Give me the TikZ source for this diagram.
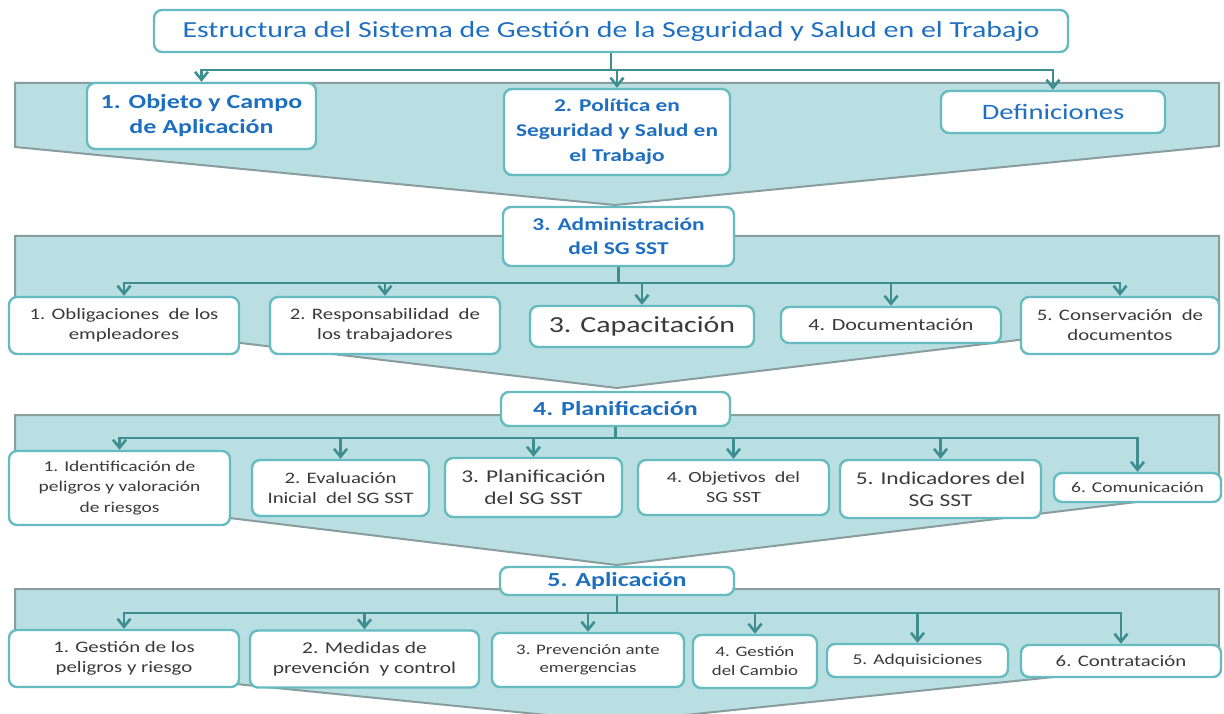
\documentclass[tikz,border=0pt]{standalone}
\usepackage{fontspec}
\setmainfont{Carlito}[FakeStretch=1.3]
\usetikzlibrary{arrows.meta}
\definecolor{bandfill}{HTML}{B9DFE2}
\definecolor{bandline}{HTML}{8A9D9E}
\definecolor{boxline}{HTML}{66BBC0}
\definecolor{connc}{HTML}{3E8E90}
\definecolor{headblue}{HTML}{1F6FC1}
\definecolor{itemgray}{HTML}{3A3A3A}
\newcommand\fsz[2]{\fontsize{#1}{#2}\selectfont}
\tikzset{
  bx/.style={draw=boxline, line width=2.4pt, rounded corners=8pt, fill=white, align=center, inner sep=0pt},
  head/.style={bx, text=headblue},
  item/.style={bx, text=itemgray},
  band/.style={fill=bandfill, draw=bandline, line width=2pt, line join=miter},
  arr/.style={draw=connc, line width=2.6pt, -{Straight Barb[length=8pt,width=13pt]}},
}
\begin{document}
\begin{tikzpicture}[x=1pt,y=-1pt]
\useasboundingbox (0,0) rectangle (1224,714);
% bands
\draw[band] (15,83) -- (1219,83) -- (1219,146) -- (615,205) -- (15,147) -- cycle;
\draw[band] (15,236) -- (1219,236) -- (1219,316) -- (617,388) -- (15,316) -- cycle;
\draw[band] (15,415) -- (1219,415) -- (1219,492) -- (617,565) -- (15,492) -- cycle;
\begin{scope}
\clip (0,0) rectangle (1224,714);
\draw[band] (15,589) -- (1219,589) -- (1219,660) -- (617,722) -- (15,662) -- cycle;
\end{scope}
% title
\node[head, minimum width=914pt, minimum height=42pt, font=\fsz{23}{28}] (title) at (611,31)
  {Estructura del Sistema de Gestión de la Seguridad y Salud en el Trabajo};
% level 1
\node[head, minimum width=229pt, minimum height=66pt, font=\bfseries\fsz{20}{25}] (b1) at (201.5,116)
  {1. Objeto y Campo\\de Aplicación};
\node[head, minimum width=226pt, minimum height=86pt, font=\bfseries\fsz{18}{25}] (b2) at (617,132)
  {2. Política en\\Seguridad y Salud en\\el Trabajo};
\node[head, minimum width=224pt, minimum height=42pt, font=\fsz{22}{26}] (b3) at (1053,112)
  {Definiciones};
% level 2
\node[head, minimum width=231pt, minimum height=59pt, font=\bfseries\fsz{18}{24}] (adm) at (618.5,236.5)
  {3. Administración\\del SG SST};
\node[item, minimum width=230pt, minimum height=57pt, font=\fsz{16}{20}] (o1) at (124,325.5)
  {1. Obligaciones\ \ de los\\empleadores};
\node[item, minimum width=230pt, minimum height=57pt, font=\fsz{16}{20}] (o2) at (385,325.5)
  {2. Responsabilidad\ \ de\\los trabajadores};
\node[item, minimum width=224pt, minimum height=41pt, font=\fsz{23}{27}] (o3) at (642,326.5)
  {3. Capacitación};
\node[item, minimum width=220pt, minimum height=36pt, font=\fsz{17}{20}] (o4) at (891,325)
  {4. Documentación};
\node[item, minimum width=198pt, minimum height=57pt, font=\fsz{16}{20}] (o5) at (1120,325.5)
  {5. Conservación\ \ de\\documentos};
% level 3
\node[head, minimum width=229pt, minimum height=34pt, font=\bfseries\fsz{20}{24}] (plan) at (615.5,409)
  {4. Planificación};
\node[item, minimum width=221pt, minimum height=74pt, font=\fsz{15}{20.5}] (p1) at (119.5,488)
  {1. Identificación de\\peligros y valoración\\de riesgos};
\node[item, minimum width=177pt, minimum height=56pt, font=\fsz{16}{20}] (p2) at (340.5,488)
  {2. Evaluación\\Inicial\ \ del SG SST};
\node[item, minimum width=177pt, minimum height=59pt, font=\fsz{18}{22}] (p3) at (533.5,487.5)
  {3. Planificación\\del SG SST};
\node[item, minimum width=191pt, minimum height=55pt, font=\fsz{15.5}{20}] (p4) at (733.5,487.5)
  {4. Objetivos\ \ del\\SG SST};
\node[item, minimum width=201pt, minimum height=58pt, font=\fsz{18}{22}] (p5) at (940.5,489)
  {5. Indicadores del\\SG SST};
\node[item, minimum width=167pt, minimum height=29pt, font=\fsz{15}{18}] (p6) at (1137.5,487.5)
  {6. Comunicación};
% level 4
\node[head, minimum width=234pt, minimum height=28pt, font=\bfseries\fsz{20}{24}] (apl) at (617,581)
  {5. Aplicación};
\node[item, minimum width=230pt, minimum height=57pt, font=\fsz{16}{20}] (a1) at (124,658.5)
  {1. Gestión de los\\peligros y riesgo};
\node[item, minimum width=229pt, minimum height=57pt, font=\fsz{16.5}{20}] (a2) at (364.5,659)
  {2. Medidas de\\prevención\ \ y control};
\node[item, minimum width=192pt, minimum height=54pt, font=\fsz{14.5}{18.5}] (a3) at (588,660)
  {3. Prevención ante\\emergencias};
\node[item, minimum width=124pt, minimum height=53pt, font=\fsz{14.5}{19}] (a4) at (755,661.5)
  {4. Gestión\\del Cambio};
\node[item, minimum width=181pt, minimum height=33pt, font=\fsz{15}{18}] (a5) at (917.5,660.5)
  {5. Adquisiciones};
\node[item, minimum width=200pt, minimum height=32pt, font=\fsz{16}{18}] (a6) at (1121,661)
  {6. Contratación};
% buses
\coordinate (bus1) at (0,70);
\coordinate (bus2) at (0,283);
\coordinate (bus3) at (0,438);
\coordinate (bus4) at (0,613);
% connectors
\foreach \c in {b1,b2,b3}
  \draw[arr] (title.south) -- (title.south |- bus1) -| (\c.north);
\foreach \c in {o1,o2,o3,o4,o5}
  \draw[arr] (adm.south) -- (adm.south |- bus2) -| (\c.north);
\foreach \c in {p1,p2,p3,p4,p5,p6}
  \draw[arr] (plan.south) -- (plan.south |- bus3) -| (\c.north);
\foreach \c in {a1,a2,a3,a4,a5,a6}
  \draw[arr] (apl.south) -- (apl.south |- bus4) -| (\c.north);
\end{tikzpicture}
\end{document}
